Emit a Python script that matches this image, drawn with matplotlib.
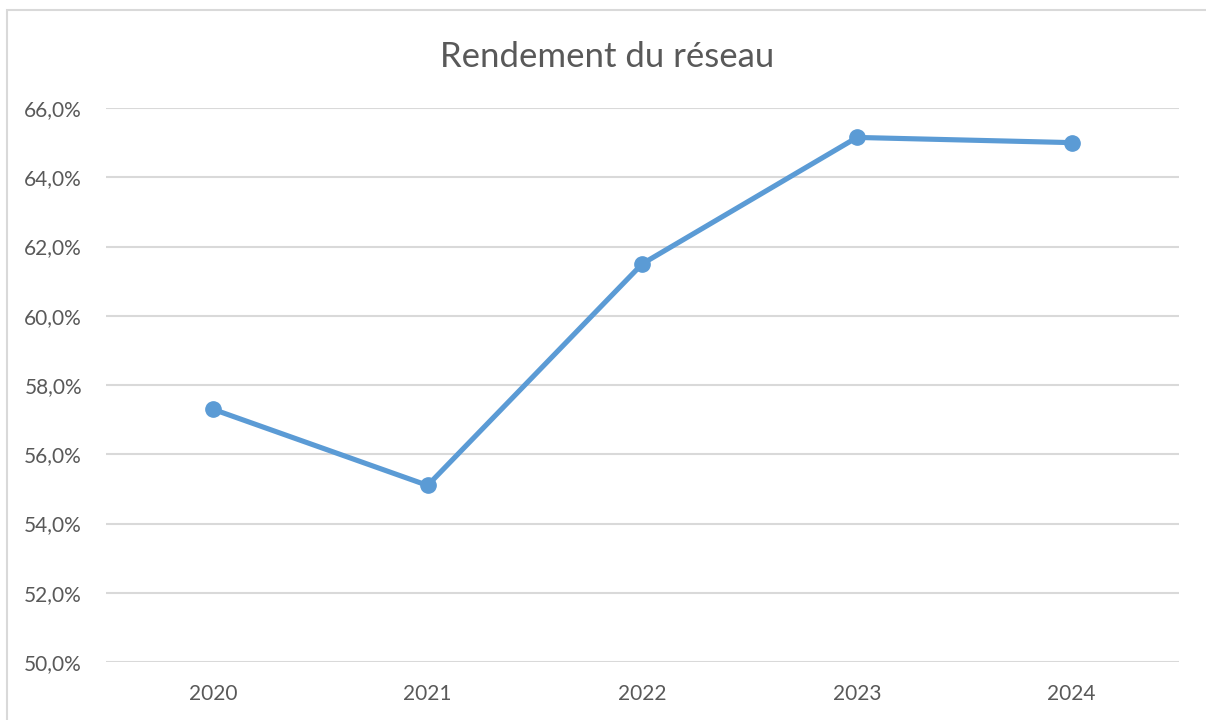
import matplotlib
matplotlib.use("Agg")
import matplotlib.pyplot as plt
from matplotlib.patches import Rectangle
from matplotlib.ticker import FuncFormatter

years = ["2020", "2021", "2022", "2023", "2024"]
rendement = [57.3, 55.1, 61.5, 65.15, 65.0]
title = "Rendement du réseau"

plt.rcParams['font.family'] = ['Lato', 'DejaVu Sans']
text_color = "#595959"
grid_color = "#D9D9D9"
line_color = "#5B9BD5"

fig = plt.figure(figsize=(12.06, 7.2), dpi=100)
fig.patch.set_facecolor("white")
# chart border (extends beyond right and bottom edges as in reference)
fig.patches.append(Rectangle((7/1206, -0.05), 1.1, 1 - 10/720 + 0.05,
                             transform=fig.transFigure, fill=False,
                             edgecolor=grid_color, linewidth=1.5))

ax = fig.add_axes([105.6/1206, 1 - 662/720, (1179 - 105.6)/1206, (662 - 108)/720])
x = list(range(len(years)))
ax.plot(x, rendement, color=line_color, linewidth=3.7, marker='o',
        markersize=11, solid_capstyle='round', zorder=3)

ax.set_xlim(-0.5, len(years) - 0.5)
ax.set_ylim(50, 66)
ax.set_yticks([50, 52, 54, 56, 58, 60, 62, 64, 66])
ax.yaxis.set_major_formatter(FuncFormatter(lambda v, p: f"{v:.1f}%".replace(".", ",")))
ax.set_xticks(x)
ax.set_xticklabels(years)
ax.grid(axis='y', color=grid_color, linewidth=1.5)
ax.set_axisbelow(True)
for s in ax.spines.values():
    s.set_visible(False)
ax.tick_params(axis='both', length=0, labelsize=15, labelcolor=text_color)
ax.tick_params(axis='y', pad=17)
ax.tick_params(axis='x', pad=16)

fig.text(607/1206, 1 - 57/720, title, ha='center', va='center',
         fontsize=25, color=text_color)

fig.savefig("out.png", dpi=100)
